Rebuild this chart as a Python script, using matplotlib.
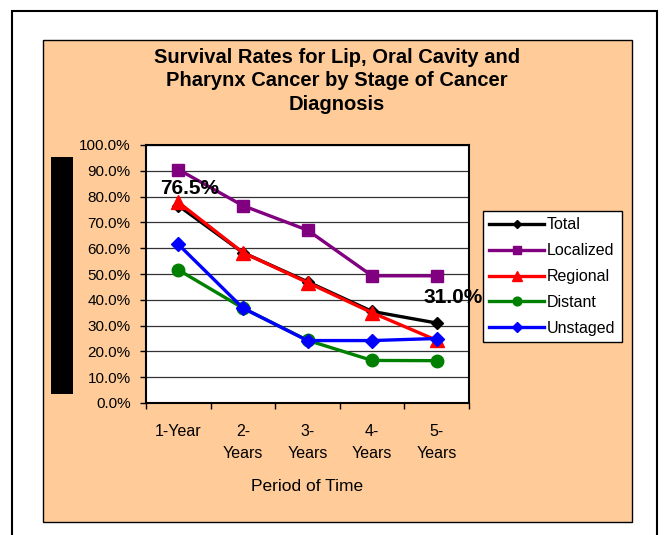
import matplotlib
matplotlib.use("Agg")
import matplotlib.pyplot as plt
from matplotlib.patches import Rectangle

plt.rcParams['font.family'] = ['Liberation Sans', 'DejaVu Sans']

periods = ["1-Year", "2-\nYears", "3-\nYears", "4-\nYears", "5-\nYears"]
total = [76.5, 58.3, 47.0, 35.5, 31.0]
localized = [90.5, 76.5, 67.0, 49.3, 49.3]
regional = [77.8, 58.3, 46.7, 35.0, 24.3]
distant = [51.6, 36.8, 24.3, 16.5, 16.4]
unstaged = [61.5, 36.8, 24.2, 24.2, 25.0]

series = [
    ("Total", total, "black", "D", 6),
    ("Localized", localized, "#800080", "s", 8.5),
    ("Regional", regional, "#ff0000", "^", 9.5),
    ("Distant", distant, "#008000", "o", 9),
    ("Unstaged", unstaged, "#0000ff", "D", 7),
]

fig = plt.figure(figsize=(6.65, 5.35), dpi=100)
fig.patch.set_facecolor("white")

# outer frame and orange chart area
fig.patches.append(Rectangle((12/665, -0.05), 645/665, 1.05 - 11/535, transform=fig.transFigure,
                             fill=False, ec="black", lw=1.5, zorder=-3))
fig.patches.append(Rectangle((43/665, 1 - 522/535), 589/665, 482/535, transform=fig.transFigure,
                             fc="#ffcc99", ec="black", lw=1.0, zorder=-2))
# blacked-out axis title
fig.patches.append(Rectangle((51/665, 1 - 394/535), 22/665, 237/535, transform=fig.transFigure,
                             fc="black", ec="none", zorder=-1))

ax = fig.add_axes([146/665, 1 - 403/535, 323/665, 258/535])
ax.set_facecolor("white")

x = list(range(1, len(periods) + 1))
for name, vals, col, mk, ms in series:
    ax.plot(x, vals, color=col, lw=2.4, marker=mk, ms=ms, label=name, clip_on=False)

ax.set_xlim(0.5, 5.5)
ax.set_ylim(0, 100)
ax.set_yticks(range(0, 101, 10))
ax.set_yticklabels([f"{v:.1f}%" for v in range(0, 101, 10)], fontsize=11)
ax.yaxis.grid(True, color="#333333", lw=0.9)
ax.set_axisbelow(True)
ax.set_xticks(x)
ax.set_xticklabels(periods, fontsize=11.5, linespacing=1.6)
ax.set_xticks([0.5, 1.5, 2.5, 3.5, 4.5, 5.5], minor=True)
ax.tick_params(axis="x", which="major", length=0, pad=15)
ax.tick_params(axis="x", which="minor", length=4, direction="out", width=1)
ax.tick_params(axis="y", length=4, direction="out", width=1, pad=7)
for s in ax.spines.values():
    s.set_linewidth(1.5)

ax.set_xlabel("Period of Time", fontsize=12.5, labelpad=13)

# data labels for Total
ax.annotate(f"{total[0]:.1f}%", (1, total[0]), xytext=(8.3, 12), textcoords="offset points",
            ha="center", va="center", fontsize=15, fontweight="bold")
ax.annotate(f"{total[4]:.1f}%", (5, total[4]), xytext=(12, 18.5), textcoords="offset points",
            ha="center", va="center", fontsize=15, fontweight="bold", annotation_clip=False)

fig.text(337/665, 1 - 48/535, "Survival Rates for Lip, Oral Cavity and\nPharynx Cancer by Stage of Cancer\nDiagnosis",
         ha="center", va="top", fontsize=14.5, fontweight="bold", linespacing=1.3)

leg = fig.legend(loc="upper left", bbox_to_anchor=(483/665, 1 - 211/535), fontsize=11.5,
                 frameon=True, fancybox=False, edgecolor="black", framealpha=1,
                 handlelength=3.4, handletextpad=0.2, labelspacing=0.68, borderpad=0.4,
                 borderaxespad=0, markerscale=0.7)
leg.get_frame().set_linewidth(1.0)
leg.set_zorder(10)

fig.savefig("out.png", dpi=100)
